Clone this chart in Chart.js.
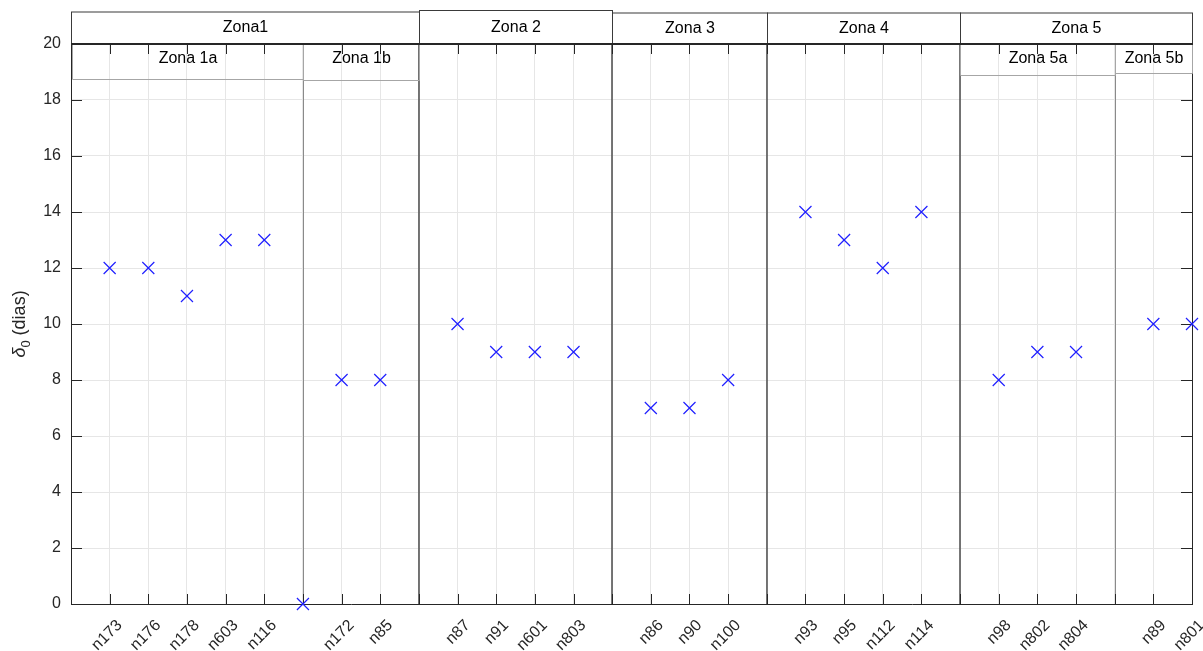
<!DOCTYPE html>
<html>
<head>
<meta charset="utf-8">
<script src="https://cdn.jsdelivr.net/npm/chart.js@4/dist/chart.umd.min.js"></script>
<style>
html,body{margin:0;padding:0;background:#fff;}
#c{display:block;}
</style>
</head>
<body>
<canvas id="c" width="1203" height="651"></canvas>
<script>
const categories = ['', 'n173', 'n176', 'n178', 'n603', 'n116', '', 'n172', 'n85', '', 'n87', 'n91', 'n601', 'n803', '', 'n86', 'n90', 'n100', '', 'n93', 'n95', 'n112', 'n114', '', 'n98', 'n802', 'n804', '', 'n89', 'n801'];
const delta0 = [null, 12, 12, 11, 13, 13, 0, 8, 8, null, 10, 9, 9, 9, null, 7, 7, 8, null, 14, 13, 12, 14, null, 8, 9, 9, null, 10, 10];
const zoneNames = ['Zona1', 'Zona 2', 'Zona 3', 'Zona 4', 'Zona 5'];
const zoneBounds = [[0, 9], [9, 14], [14, 18], [18, 23], [23, 29]];
const subZoneNames = ['Zona 1a', 'Zona 1b', 'Zona 5a', 'Zona 5b'];
const subZoneBounds = [[0, 6], [6, 9], [23, 27], [27, 29]];
const majorSeparators = [9, 14, 18, 23];
const minorSeparators = [6, 27];
const yLabelMain = '\u03B4';
const yLabelSub = '0';
const yLabelRest = ' (dias)';

const FONT = "'Liberation Sans', Arial, sans-serif";
const AXIS = '#262626';

const zonePlugin = {
  id: 'zones',
  beforeDatasetsDraw(chart) {
    const ctx = chart.ctx, x = chart.scales.x, y = chart.scales.y, a = chart.chartArea;
    ctx.save();
    minorSeparators.forEach(i => {
      const px = Math.round(x.getPixelForValue(i)) + 0.5;
      ctx.strokeStyle = '#8a8a8a'; ctx.lineWidth = 1;
      ctx.beginPath(); ctx.moveTo(px, a.top); ctx.lineTo(px, a.bottom); ctx.stroke();
    });
    majorSeparators.forEach(i => {
      const px = Math.round(x.getPixelForValue(i));
      ctx.strokeStyle = '#4a4a4a'; ctx.lineWidth = 1.5;
      ctx.beginPath(); ctx.moveTo(px, a.top); ctx.lineTo(px, a.bottom); ctx.stroke();
    });
    ctx.strokeStyle = AXIS; ctx.lineWidth = 1;
    x.ticks.forEach((t, i) => {
      const px = Math.round(x.getPixelForTick(i)) + 0.5;
      ctx.beginPath(); ctx.moveTo(px, a.bottom); ctx.lineTo(px, a.bottom - 10); ctx.stroke();
      ctx.beginPath(); ctx.moveTo(px, a.top); ctx.lineTo(px, a.top + 10); ctx.stroke();
    });
    y.ticks.forEach((t, i) => {
      const py = Math.round(y.getPixelForTick(i)) + 0.5;
      ctx.beginPath(); ctx.moveTo(a.left, py); ctx.lineTo(a.left + 11, py); ctx.stroke();
      ctx.beginPath(); ctx.moveTo(a.right, py); ctx.lineTo(a.right - 11, py); ctx.stroke();
    });
    ctx.beginPath(); ctx.moveTo(a.right + 0.5, a.top); ctx.lineTo(a.right + 0.5, a.bottom); ctx.stroke();

    const subBottoms = [79, 80, 75, 73];
    ctx.font = '16px ' + FONT; ctx.textAlign = 'center'; ctx.textBaseline = 'middle';
    subZoneBounds.forEach((b, i) => {
      const x0 = Math.round(x.getPixelForValue(b[0])) + 0.5 + (b[0] === 0 ? 1 : 0);
      const x1 = Math.round(x.getPixelForValue(b[1])) + 0.5;
      const yb = subBottoms[i] + 0.5;
      ctx.strokeStyle = '#a6a6a6'; ctx.lineWidth = 1;
      ctx.beginPath();
      ctx.moveTo(x0, a.top); ctx.lineTo(x0, yb); ctx.lineTo(x1, yb); ctx.lineTo(x1, a.top);
      ctx.stroke();
      ctx.fillStyle = '#000';
      ctx.fillText(subZoneNames[i], (x0 + x1) / 2, a.top + 15);
    });
    ctx.restore();
  },
  afterDraw(chart) {
    const ctx = chart.ctx, x = chart.scales.x, a = chart.chartArea;
    ctx.save();
    const tops = [12, 10.5, 13, 13, 13];
    ctx.font = '16px ' + FONT; ctx.textAlign = 'center'; ctx.textBaseline = 'middle';
    zoneBounds.forEach((b, i) => {
      const x0 = Math.round(x.getPixelForValue(b[0])) + 0.5;
      const x1 = Math.round(x.getPixelForValue(b[1])) + 0.5;
      const yt = tops[i];
      ctx.strokeStyle = '#3a3a3a'; ctx.lineWidth = 1;
      ctx.strokeRect(x0, yt, x1 - x0, a.top - yt);
      ctx.fillStyle = '#000';
      ctx.fillText(zoneNames[i], (x0 + x1) / 2, (yt + a.top) / 2);
    });
    ctx.strokeStyle = '#262626'; ctx.lineWidth = 2;
    ctx.beginPath(); ctx.moveTo(a.left, a.top); ctx.lineTo(a.right + 1, a.top); ctx.stroke();

    ctx.translate(20, (a.top + a.bottom) / 2);
    ctx.rotate(-Math.PI / 2);
    ctx.fillStyle = '#262626';
    ctx.textAlign = 'left'; ctx.textBaseline = 'middle';
    const mainFont = 'italic 18px ' + FONT, subFont = '13px ' + FONT, restFont = '18px ' + FONT;
    ctx.font = mainFont; const w1 = ctx.measureText(yLabelMain).width;
    ctx.font = subFont; const w2 = ctx.measureText(yLabelSub).width;
    ctx.font = restFont; const w3 = ctx.measureText(yLabelRest).width;
    let sx = -(w1 + w2 + w3) / 2;
    ctx.font = mainFont; ctx.fillText(yLabelMain, sx, 0); sx += w1;
    ctx.font = subFont; ctx.fillText(yLabelSub, sx, 6); sx += w2;
    ctx.font = restFont; ctx.fillText(yLabelRest, sx, 0);
    ctx.restore();
  }
};

new Chart(document.getElementById('c'), {
  type: 'line',
  data: {
    labels: categories,
    datasets: [{
      data: delta0,
      showLine: false,
      pointStyle: 'crossRot',
      pointRadius: 8.5,
      pointBorderWidth: 1.2,
      borderColor: '#2020ff',
      backgroundColor: '#2020ff',
      clip: false
    }]
  },
  options: {
    responsive: false,
    animation: false,
    layout: { padding: { top: 44, right: 11, left: 0, bottom: 0 } },
    plugins: { legend: { display: false }, tooltip: { enabled: false } },
    scales: {
      x: {
        type: 'category',
        offset: false,
        grid: { color: '#e6e6e6', drawTicks: false },
        border: { display: true, color: AXIS, width: 1 },
        ticks: {
          autoSkip: false, maxRotation: 45, minRotation: 45,
          font: { size: 16, family: FONT }, color: AXIS, padding: 12, labelOffset: 10
        },
        afterFit(s) { s.height = 47; s.paddingRight = 0; s.paddingLeft = 0; }
      },
      y: {
        min: 0, max: 20,
        grid: { color: '#e6e6e6', drawTicks: false },
        border: { display: true, color: AXIS, width: 1 },
        ticks: { stepSize: 2, font: { size: 16, family: FONT }, color: AXIS, padding: 10 },
        afterFit(s) { s.width = 71; s.paddingTop = 0; s.paddingBottom = 0; }
      }
    }
  },
  plugins: [zonePlugin]
});
</script>
</body>
</html>
